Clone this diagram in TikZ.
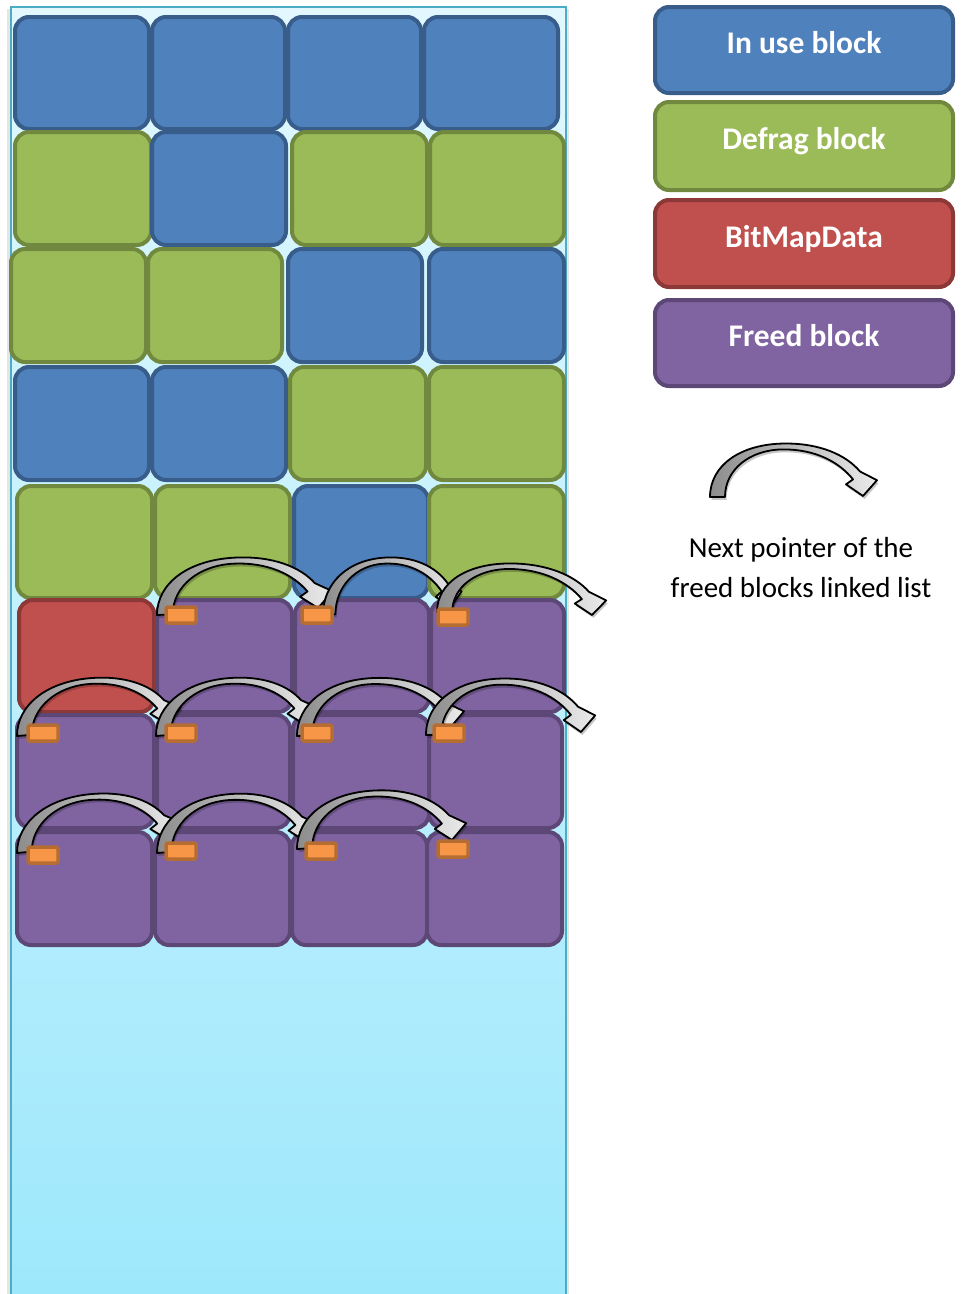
\documentclass[tikz,border=0pt]{standalone}
\usepackage{fontspec}
\setmainfont{Carlito}
\definecolor{inuse}{HTML}{4F81BD}\definecolor{inuseB}{HTML}{385D8A}
\definecolor{defrag}{HTML}{9BBB59}\definecolor{defragB}{HTML}{71893F}
\definecolor{bmp}{HTML}{C0504D}\definecolor{bmpB}{HTML}{8C3836}
\definecolor{freed}{HTML}{8064A2}\definecolor{freedB}{HTML}{5C4776}
\definecolor{ptr}{HTML}{F79646}\definecolor{ptrB}{HTML}{B66D31}
\definecolor{contTop}{HTML}{E2F8FE}\definecolor{contBot}{HTML}{9DE8FC}\definecolor{contB}{HTML}{4BACC6}
\tikzset{
  blockbox/.style={draw, line width=4pt, rounded corners=14pt, inner sep=0pt},
  U/.style={blockbox, fill=inuse, draw=inuseB},
  G/.style={blockbox, fill=defrag, draw=defragB},
  R/.style={blockbox, fill=bmp, draw=bmpB},
  P/.style={blockbox, fill=freed, draw=freedB},
  legendbox/.style={blockbox, minimum width=298pt, text=white,
     font=\fontsize{31.5}{37}\selectfont\bfseries, text height=19.5pt, text depth=12.5pt},
  ptrbox/.style={draw=ptrB, fill=ptr, line width=3.5pt, rounded corners=1.5pt,
     minimum width=30pt, minimum height=16pt, inner sep=0pt},
  ptrarrow/.style={draw=black, line width=1.8pt, line join=round, left color=black!45, right color=black!8},
  ptrshadow/.style={fill=black, opacity=0.22},
  lbl/.style={anchor=base, font=\fontsize{29}{41}\selectfont, text=black}
}
\newcommand{\ptrpath}{(0,0) .. controls (0,-32) and (30,-54) .. (75,-54) .. controls (110,-54) and (136,-42) .. (150,-25) -- (167,-16) -- (153,0) -- (136,-12) -- (143,-17) .. controls (129,-35) and (105,-48) .. (73,-48) .. controls (40,-48) and (15,-28) .. (15,0) -- cycle}
% tail x, tail y, length, tip drop, height
\newcommand{\nextptr}[5]{%
  \begin{scope}[shift={(#1,#2)}, yslant={-(#4)/(#3)}, xscale={(#3)/153}, yscale={(#5)/54}]
    \path[ptrshadow, shift={(1.5,3)}] \ptrpath;
    \path[ptrarrow] \ptrpath;
  \end{scope}}
\newcommand{\blk}[6]{\node[#1, minimum width={(#5)-(#3)-4}, minimum height={(#6)-(#4)-4}] (#2) at ({((#3)+(#5))/2},{((#4)+(#6))/2}) {};}
\begin{document}
\begin{tikzpicture}[x=1pt, y=-1pt]
\useasboundingbox (0,0) rectangle (962,1294);
% container
\fill[black!10] (7,9) rectangle (569,1300);
\node[draw=contB, line width=1.5pt, top color=contTop, bottom color=contBot, inner sep=0pt,
      minimum width=555pt, minimum height=1300pt, anchor=north west] (mem) at (10,6) {};
% row 1
\blk{U}{b11}{13}{15}{151}{131}
\blk{U}{b12}{150}{15}{287}{131}
\blk{U}{b13}{286}{15}{423}{131}
\blk{U}{b14}{422}{15}{560}{131}
% row 2
\blk{G}{b21}{13}{130}{153}{247}
\blk{U}{b22}{150}{130}{288}{247}
\blk{G}{b23}{290}{130}{429}{247}
\blk{G}{b24}{428}{130}{566}{247}
% row 3
\blk{G}{b31}{9}{247}{148}{364}
\blk{G}{b32}{146}{247}{284}{364}
\blk{U}{b33}{286}{247}{424}{364}
\blk{U}{b34}{427}{247}{566}{364}
% row 4
\blk{U}{b41}{13}{365}{151}{482}
\blk{U}{b42}{150}{365}{288}{482}
\blk{G}{b43}{288}{365}{428}{482}
\blk{G}{b44}{427}{365}{566}{482}
% row 5
\blk{G}{b51}{15}{484}{154}{600}
\blk{G}{b52}{153}{484}{292}{600}
\blk{U}{b53}{292}{484}{430}{600}
\blk{G}{b54}{427}{484}{566}{600}
% row 6
\blk{R}{b61}{17}{598}{156}{714}
\blk{P}{b62}{155}{598}{294}{714}
\blk{P}{b63}{293}{598}{431}{714}
\blk{P}{b64}{429}{598}{566}{714}
% row 7
\blk{P}{b71}{15}{713}{156}{830}
\blk{P}{b72}{155}{713}{292}{830}
\blk{P}{b73}{291}{713}{431}{830}
\blk{P}{b74}{427}{713}{564}{830}
% row 8
\blk{P}{b81}{15}{830}{154}{947}
\blk{P}{b82}{153}{830}{292}{947}
\blk{P}{b83}{290}{830}{429}{947}
\blk{P}{b84}{425}{830}{564}{947}
% next pointers
\nextptr{157}{615}{161}{-7}{54}
\nextptr{323}{615}{127}{-7}{54}
\nextptr{437}{612}{155}{3}{50}
\nextptr{17}{736}{150}{-12}{52}
\nextptr{156}{736}{148}{-12}{52}
\nextptr{297}{736}{153}{-8}{54}
\nextptr{426}{735}{155}{-3}{55}
\nextptr{17}{853}{150}{-14}{52}
\nextptr{157}{853}{148}{-12}{53}
\nextptr{297}{849}{155}{-9}{54}
% pointer fields
\node[ptrbox] (p62) at (181,615) {};
\node[ptrbox] (p63) at (317,615) {};
\node[ptrbox] (p64) at (453,617) {};
\node[ptrbox] (p71) at (43,733) {};
\node[ptrbox] (p72) at (181,733) {};
\node[ptrbox] (p73) at (317,733) {};
\node[ptrbox] (p74) at (449,733) {};
\node[ptrbox] (p81) at (43,855) {};
\node[ptrbox] (p82) at (181,851) {};
\node[ptrbox] (p83) at (321,851) {};
\node[ptrbox] (p84) at (453,849) {};
% legend
\node[legendbox, U, minimum height=86pt] (leg1) at (804,50) {In use block};
\node[legendbox, G, minimum height=88pt] (leg2) at (804,146) {Defrag block};
\node[legendbox, R, minimum height=87pt] (leg3) at (804,243.5) {BitMapData};
\node[legendbox, P, minimum height=86pt] (leg4) at (804,343) {Freed block};
\nextptr{710}{497}{153}{-1}{53}
\node[lbl] (lbl1) at (801,557) {Next pointer of the};
\node[lbl] (lbl2) at (801,597) {freed blocks linked list};
\end{tikzpicture}
\end{document}
